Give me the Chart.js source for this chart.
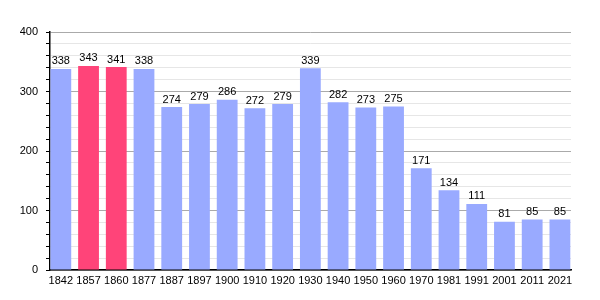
<!DOCTYPE html>
<html>
<head>
<meta charset="utf-8">
<script src="https://cdn.jsdelivr.net/npm/chart.js@4/dist/chart.umd.min.js"></script>
<style>
  html, body { margin: 0; padding: 0; background: #fff; }
  #chart { display: block; }
</style>
</head>
<body>
<canvas id="chart" width="600" height="300"></canvas>
<script>
// data
const years = ["1842", "1857", "1860", "1877", "1887", "1897", "1900", "1910", "1920", "1930",
  "1940", "1950", "1960", "1970", "1981", "1991", "2001", "2011", "2021"];
const population = [338, 343, 341, 338, 274, 279, 286, 272, 279, 339,
  282, 273, 275, 171, 134, 111, 81, 85, 85];
const highlighted = ["1857", "1860"];
const yTicks = [0, 100, 200, 300, 400];

const blue = "#99aaff";
const pink = "#ff4479";
const font = { family: "'Liberation Sans', Arial, sans-serif", size: 11 };

//value labels over the bars
const barLabels = {
  id: "barLabels",
  afterDatasetsDraw(chart) {
    const ctx = chart.ctx;
    const meta = chart.getDatasetMeta(0);
    ctx.save();
    ctx.font = `${font.size}px ${font.family}`;
    ctx.fillStyle = "#000";
    ctx.textAlign = "center";
    ctx.textBaseline = "bottom";
    meta.data.forEach((bar, i) => {
      ctx.fillText(population[i], bar.x, bar.y - 2);
    });
    ctx.restore();
  }
};

new Chart(document.getElementById("chart"), {
  type: "bar",
  data: {
    datasets: [{
      data: years.map((y, i) => ({ x: i, y: population[i] })),
      backgroundColor: years.map((y) => highlighted.includes(y) ? pink : blue),
      borderWidth: 0,
      categoryPercentage: 1,
      barPercentage: 0.75
    }]
  },
  options: {
    responsive: false,
    animation: false,
    layout: { padding: { top: 32, right: 29, left: 0, bottom: 0 } },
    plugins: { legend: { display: false }, tooltip: { enabled: false } },
    scales: {
      x: {
        type: "linear",
        offset: false,
        min: -0.39,
        max: 18.4,
        grid: { display: false, drawTicks: false, offset: false },
        border: { color: "#000", width: 1.5 },
        afterBuildTicks(scale) {
          scale.ticks = years.map((y, i) => ({ value: i }));
        },
        ticks: {
          color: "#000",
          font: font,
          padding: 4,
          maxRotation: 0,
          autoSkip: false,
          callback: (v) => years[v]
        },
        afterFit(scale) { scale.height = 30; }
      },
      y: {
        min: 0,
        max: 400,
        grid: {
          color: (c) => c.tick.value % 100 === 0 ? "#aaaaaa" : "#e6e6e6",
          tickColor: "#000",
          tickLength: 4
        },
        border: { color: "#000", width: 1.5 },
        ticks: {
          stepSize: 20,
          color: "#000",
          font: font,
          padding: 8,
          autoSkip: false,
          callback: (v) => yTicks.includes(v) ? v : ""
        },
        afterFit(scale) { scale.width = 50; }
      }
    }
  },
  plugins: [barLabels]
});
</script>
</body>
</html>
